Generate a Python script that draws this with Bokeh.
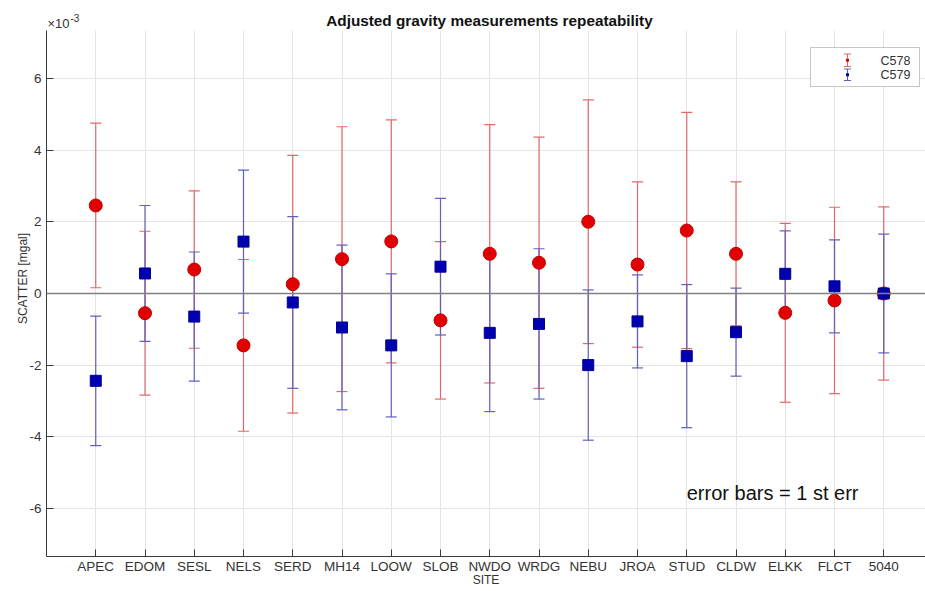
import math
from bokeh.plotting import figure
from bokeh.models import (ColumnDataSource, Range1d, FixedTicker, Whisker, TeeHead,
                          Span, Label, BoxAnnotation, Arrow)
from bokeh.embed import file_html
from bokeh.resources import INLINE

# ---------------- data (values in units of 1e-3 mGal) ----------------
sites = ["APEC", "EDOM", "SESL", "NELS", "SERD", "MH14", "LOOW", "SLOB", "NWDO",
         "WRDG", "NEBU", "JROA", "STUD", "CLDW", "ELKK", "FLCT", "5040"]
c578_val = [2.46, -0.55, 0.67, -1.45, 0.26, 0.96, 1.455, -0.75, 1.11,
            0.86, 2.005, 0.81, 1.76, 1.11, -0.54, -0.195, 0.0]
c578_err = [2.30, 2.29, 2.20, 2.40, 3.60, 3.70, 3.395, 2.20, 3.61,
            3.51, 3.405, 2.31, 3.30, 2.01, 2.50, 2.605, 2.42]
c579_val = [-2.44, 0.56, -0.645, 1.45, -0.25, -0.95, -1.45, 0.75, -1.10,
            -0.85, -2.00, -0.78, -1.75, -1.08, 0.55, 0.20, 0.0]
c579_err = [1.81, 1.90, 1.805, 2.00, 2.40, 2.30, 2.00, 1.91, 2.20,
            2.10, 2.10, 1.30, 2.00, 1.23, 1.20, 1.30, 1.66]
y_ticks = [-6, -4, -2, 0, 2, 4, 6]
y_tick_labels = ["-6", "-4", "-2", "0", "2", "4", "6"]
y_limits = (-7.35, 7.35)
series_names = ["C578", "C579"]
title_text = "Adjusted gravity measurements repeatability"
ylabel_text = "SCATTER [mgal]"
xlabel_text = "SITE"
note_text = "error bars = 1 st err"
exp_base, exp_power = "\u00d710", "-3"

# ---------------- layout ----------------
W, H = 925, 591
ML, MR, MT, MB = 46, 0, 0, 35
AX_TOP_PX = 30                # where the axes box starts (title area above it)
CAT_PX = 49.25                # pixels per category
FONT = "Liberation Sans"
RED_LINE, RED_MARK = "#e26868", "#e00000"
BLUE_LINE, BLUE_MARK = "#6060bf", "#0000b0"
AX_COLOR = "#3a3a3a"
TXT = "#333333"

FL, FR, FT, FB = ML, W - MR, MT, H - MB
X0 = 0
X1 = (FR - FL) / CAT_PX
Y0, Ylim = y_limits
PX_PER_Y = (FB - AX_TOP_PX) / (Ylim - Y0)
YT = Ylim + (AX_TOP_PX - FT) / PX_PER_Y


def dx(px):
    return X0 + (px - FL) / (FR - FL) * (X1 - X0)


def dy(py):
    return YT - (py - FT) / (FB - FT) * (YT - Y0)


xs = list(range(1, len(sites) + 1))
src578 = ColumnDataSource(dict(x=xs, y=c578_val,
                               upper=[v + e for v, e in zip(c578_val, c578_err)],
                               lower=[v - e for v, e in zip(c578_val, c578_err)]))
src579 = ColumnDataSource(dict(x=xs, y=c579_val,
                               upper=[v + e for v, e in zip(c579_val, c579_err)],
                               lower=[v - e for v, e in zip(c579_val, c579_err)]))

p = figure(width=W, height=H, x_range=Range1d(X0, X1), y_range=Range1d(Y0, YT),
           output_backend="svg", toolbar_location=None, title=None,
           min_border_left=ML, min_border_right=MR, min_border_top=MT,
           min_border_bottom=MB)
p.outline_line_color = None
p.background_fill_color = "white"
p.border_fill_color = "white"

# axes
p.xaxis.ticker = FixedTicker(ticks=xs)
p.xaxis.major_label_overrides = {i: s for i, s in zip(xs, sites)}
p.yaxis.ticker = FixedTicker(ticks=y_ticks)
p.yaxis.major_label_overrides = {t: s for t, s in zip(y_ticks, y_tick_labels)}
p.yaxis.bounds = y_limits
for ax in (p.xaxis, p.yaxis):
    ax.axis_line_color = AX_COLOR
    ax.major_tick_line_color = AX_COLOR
    ax.major_tick_in = 7
    ax.major_tick_out = 0
    ax.minor_tick_line_color = None
    ax.major_label_text_font = FONT
    ax.major_label_text_font_size = "13.5px"
    ax.major_label_text_color = TXT
    ax.axis_label_text_font = FONT
    ax.axis_label_text_font_size = "12px"
    ax.axis_label_text_font_style = "normal"
    ax.axis_label_text_color = TXT
p.yaxis.major_label_standoff = 5
p.yaxis.axis_label = ylabel_text
p.yaxis.axis_label_standoff = -4
p.xaxis.major_label_standoff = 2
p.xaxis.axis_label = xlabel_text
p.xaxis.axis_label_standoff = -4

p.xgrid.grid_line_color = "#e4e4e4"
p.ygrid.grid_line_color = "#e4e4e4"

# white mask over the title area (above the axes box)
p.add_layout(BoxAnnotation(bottom=Ylim, fill_color="white", fill_alpha=1.0,
                           line_color=None, level="guide"))

# error bars
for src, col in ((src578, RED_LINE), (src579, BLUE_LINE)):
    p.add_layout(Whisker(source=src, base="x", upper="upper", lower="lower",
                         dimension="height", line_color=col, line_width=1.2,
                         upper_head=TeeHead(size=11, line_color=col, line_width=1.2),
                         lower_head=TeeHead(size=11, line_color=col, line_width=1.2)))

p.scatter(x="x", y="y", source=src578, marker="circle", size=13,
          fill_color=RED_MARK, line_color="#c40000")
p.scatter(x="x", y="y", source=src579, marker="square", size=11,
          fill_color=BLUE_MARK, line_color="#00008c")

p.add_layout(Span(location=0, dimension="width", line_color="#808080", line_width=1.5))


def label(text, px, py, size, **kw):
    opts = dict(text_font=FONT, text_font_size=size, text_color=TXT,
                text_align="center", text_baseline="middle")
    opts.update(kw)
    p.add_layout(Label(x=dx(px), y=dy(py), text=text, **opts))


# title and exponent
label(title_text, 489, 20, "15.3px", text_font_style="bold", text_color="#111111")
label(exp_base, 47, 23, "13px", text_align="left")
label(exp_power, 70, 17, "10px", text_align="left")

# note
p.add_layout(Label(x=13.0, y=-5.58, text=note_text, text_font=FONT,
                   text_font_size="20px", text_color="#111111",
                   text_align="left", text_baseline="middle"))

# legend
p.add_layout(BoxAnnotation(left=dx(810), right=dx(919), top=dy(47), bottom=dy(86),
                           fill_color="white", fill_alpha=1.0,
                           line_color="#444444", line_width=1, level="annotation"))
legend_rows = [(series_names[0], RED_LINE, RED_MARK, 53.5, 66.0, 60.5),
               (series_names[1], BLUE_LINE, BLUE_MARK, 68.5, 80.0, 74.5)]
for name, lc, mc, ytop, ybot, ytxt in legend_rows:
    p.add_layout(Arrow(x_start=dx(847), y_start=dy(ytop), x_end=dx(847), y_end=dy(ybot),
                       line_color=lc, line_width=1,
                       start=TeeHead(size=7, line_color=lc, line_width=1),
                       end=TeeHead(size=7, line_color=lc, line_width=1)))
    yc = (ytop + ybot) / 2
    p.add_layout(BoxAnnotation(left=dx(845.5), right=dx(848.5), top=dy(yc - 1.5),
                               bottom=dy(yc + 1.5), fill_color=mc, fill_alpha=1.0,
                               line_color=None, level="annotation"))
    label(name, 880, ytxt, "12.5px", text_align="left")

open("out.html", "w").write(file_html(p, INLINE))
